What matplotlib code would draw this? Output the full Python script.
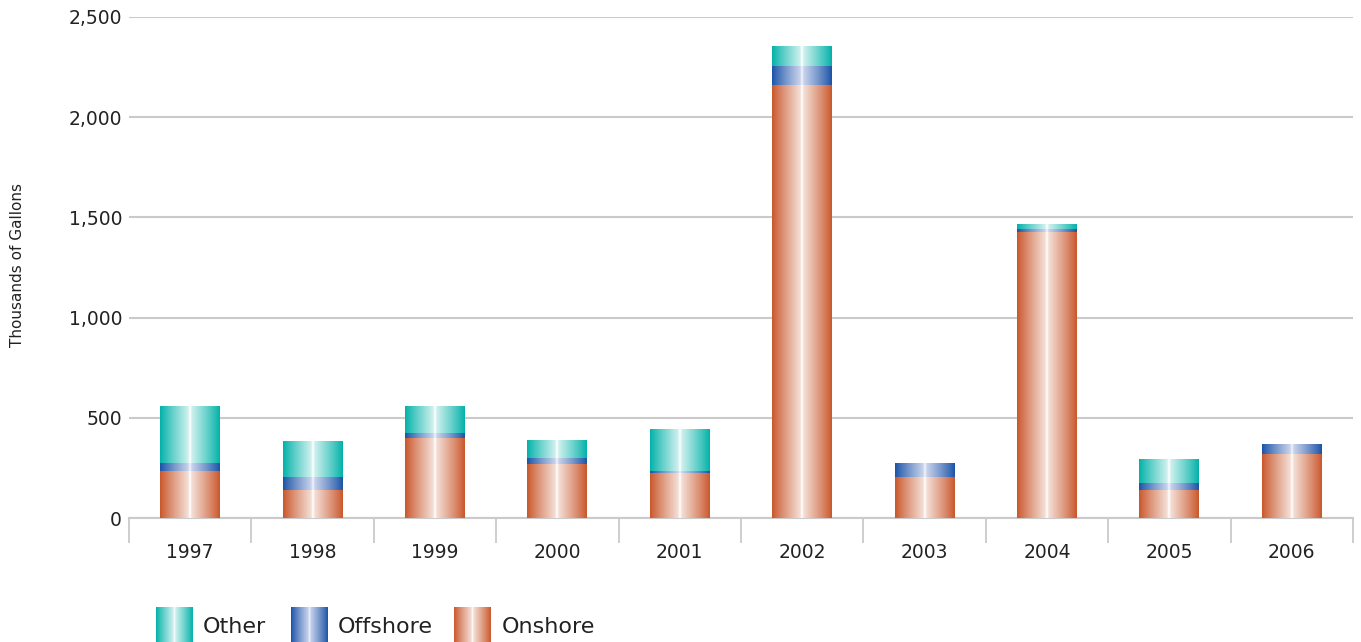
import numpy as np
import matplotlib
matplotlib.use("Agg")
import matplotlib.pyplot as plt
from matplotlib.colors import to_rgb

# Spill volumes by year, thousands of gallons
years = ["1997", "1998", "1999", "2000", "2001", "2002", "2003", "2004", "2005", "2006"]
onshore = [233, 139, 397, 268, 223, 2160, 203, 1428, 138, 317]
offshore = [39, 64, 25, 30, 14, 95, 69, 15, 35, 45]
other = [284, 179, 134, 85, 205, 95, 0, 20, 119, 0]

series_names = ["Onshore", "Offshore", "Other"]
edge_colors = {"Onshore": "#C9562A", "Offshore": "#1A52A6", "Other": "#00B1A8"}
center_colors = {"Onshore": "#FFFFFF", "Offshore": "#F2F2FC", "Other": "#FFFFFF"}

W, H = 1361, 642
fig = plt.figure(figsize=(W / 100, H / 100), dpi=100)
ax = fig.add_axes([129 / W, (H - 518) / H, (1353 - 129) / W, 501 / H])


def gradient_image(name, n=240):
    t = np.linspace(0, 1, n)
    d = np.abs(2 * t - 1)
    f = 0.85 * (1 - d) ** 0.9 + 0.15 * np.exp(-((t - 0.5) / 0.02) ** 2)
    f = np.clip(f, 0, 1)
    c0 = np.array(to_rgb(edge_colors[name]))
    c1 = np.array(to_rgb(center_colors[name]))
    row = c0[None, :] * (1 - f[:, None]) + c1[None, :] * f[:, None]
    return row[None, :, :]


x = np.arange(len(years))
width = 0.49
bottoms = np.zeros(len(years))
for name, vals in zip(series_names, [onshore, offshore, other]):
    bars = ax.bar(x, vals, width, bottom=bottoms, color="none", linewidth=0)
    img = gradient_image(name)
    for rect in bars:
        h = rect.get_height()
        if h <= 0:
            continue
        x0, y0 = rect.get_x(), rect.get_y()
        ax.imshow(img, extent=[x0, x0 + rect.get_width(), y0, y0 + h],
                  aspect="auto", interpolation="bilinear", zorder=3)
    bottoms += np.array(vals)

ax.set_xlim(-0.5, len(years) - 0.5)
ax.set_ylim(0, 2500)
ax.set_aspect("auto")

grid_color = "#CACACA"
ax.set_yticks([0, 500, 1000, 1500, 2000, 2500])
ax.set_yticklabels(["0", "500", "1,000", "1,500", "2,000", "2,500"])
ax.yaxis.grid(True, color=grid_color, linewidth=1.5, zorder=0)
ax.set_axisbelow(True)
ax.tick_params(axis="y", length=0, pad=5, labelsize=13.5, labelcolor="#222222")

ax.set_xticks(x)
ax.set_xticklabels(years)
ax.tick_params(axis="x", which="major", length=0, pad=18, labelsize=13.5,
               labelcolor="#222222")
ax.set_xticks(np.arange(-0.5, len(years)), minor=True)
ax.tick_params(axis="x", which="minor", length=18, width=1.3, color=grid_color,
               direction="out")

for s in ["top", "right", "left"]:
    ax.spines[s].set_visible(False)
ax.spines["bottom"].set_color(grid_color)
ax.spines["bottom"].set_linewidth(1.5)

fig.text(18 / W, 1 - 265 / H, "Thousands of Gallons", rotation=90,
         ha="center", va="center", fontsize=11, color="#222222")

# Legend row with gradient swatches
legend_items = [("Other", 156, 203), ("Offshore", 291, 338), ("Onshore", 454, 502)]
for name, px, tx in legend_items:
    lax = fig.add_axes([px / W, 0, 37 / W, 35 / H])
    lax.imshow(gradient_image(name), aspect="auto", interpolation="bilinear")
    lax.set_axis_off()
    fig.text(tx / W, 1 - 627 / H, name, ha="left", va="center",
             fontsize=16, color="#222222")

fig.savefig("out.png", dpi=100)
